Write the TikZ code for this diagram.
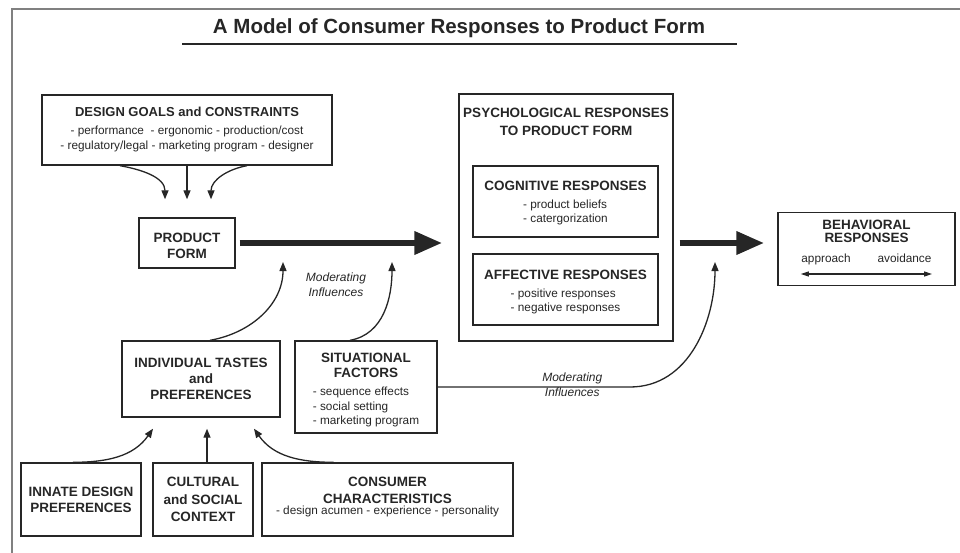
\documentclass[tikz,border=0pt]{standalone}
\usepackage{fontspec}
\setmainfont{Liberation Sans}
\usetikzlibrary{arrows.meta}

\definecolor{ink}{HTML}{262626}
\definecolor{rim}{HTML}{808080}
\def\ttl{\fontsize{13.5}{16}\selectfont\bfseries}
\def\lst{\fontsize{11.8}{14.5}\selectfont\mdseries}
\def\lift#1{\rule{0pt}{#1}}

\begin{document}
\begin{tikzpicture}[x=1pt,y=-1pt,draw=ink,text=ink,line width=1.3pt,>={Triangle[length=9pt,width=7pt]}]
    \tikzstyle{box}=[rectangle,draw,line width=1.4pt,inner sep=0pt,align=center,font=\ttl]
    \tikzstyle{head}=[inner sep=0pt,align=center,font=\ttl]
    \tikzstyle{items}=[inner sep=0pt,font=\lst]
    \tikzstyle{annot}=[inner sep=0pt,align=center,font=\fontsize{12}{15}\selectfont\itshape]
    \tikzstyle{bigarrow}=[line width=6.5pt,-{Triangle[length=28pt,width=22pt]}]

    \useasboundingbox (0,0) rectangle (960,553);
    \draw[rim,line width=1.5pt] (12,554) -- (12,9) -- (961,9);

    %%% TITLE
    \node[font=\fontsize{20.5}{24}\selectfont\bfseries] (title) at (459,28) {A Model of Consumer Responses to Product Form};
    \draw[line width=1.4pt] (182,44) -- (737,44);

    %%% DRAW THE BOXES
    \node[box,minimum width=290pt,minimum height=70pt,font=\fontsize{13}{16}\selectfont\bfseries] (dg) at (187,130)
        {DESIGN GOALS and CONSTRAINTS\\[2pt]{\lst - performance\ \ - ergonomic - production/cost}\\[-1pt]{\lst - regulatory/legal - marketing program - designer}};
    \node[box,minimum width=96pt,minimum height=50pt] (pf) at (187,243) {\lift{14.7pt}PRODUCT\\FORM};

    \node[box,minimum width=214pt,minimum height=247pt] (psy) at (566,217.5) {};
    \node[head] (psy-t) at (566,122) {PSYCHOLOGICAL RESPONSES\\[2pt]TO PRODUCT FORM};
    \node[box,minimum width=185pt,minimum height=71pt] (cog) at (565.5,201.5)
        {\lift{14.7pt}COGNITIVE RESPONSES\\[2pt]{\lst\begin{tabular}[t]{@{}l@{}}- product beliefs\\- catergorization\end{tabular}}};
    \node[box,minimum width=185pt,minimum height=71pt] (aff) at (565.5,289.5)
        {\lift{16.7pt}AFFECTIVE RESPONSES\\[2pt]{\lst\begin{tabular}[t]{@{}l@{}}- positive responses\\- negative responses\end{tabular}}};

    \node[box,minimum width=177pt,minimum height=73pt] (beh) at (866.5,249) {};
    \node[head,font=\fontsize{13.5}{13}\selectfont\bfseries] (beh-t) at (866.5,231) {BEHAVIORAL\\RESPONSES};
    \node[items,anchor=base] (appr) at (826,262) {approach};
    \node[items,anchor=base] (avoid) at (904.5,262) {avoidance};

    \node[box,minimum width=158pt,minimum height=76pt] (ind) at (201,379) {INDIVIDUAL TASTES\\and\\PREFERENCES};
    \node[box,minimum width=142pt,minimum height=92pt] (sit) at (366,387)
        {\lift{17.7pt}SITUATIONAL\\[-1pt]FACTORS\\[2pt]{\lst\begin{tabular}[t]{@{}l@{}}- sequence effects\\- social setting\\- marketing program\end{tabular}}};

    \node[box,minimum width=120pt,minimum height=73pt] (inn) at (81,499.5) {INNATE DESIGN\\PREFERENCES};
    \node[box,minimum width=100pt,minimum height=73pt] (cul) at (203,499.5) {CULTURAL\\[1.5pt]and SOCIAL\\[1.5pt]CONTEXT};
    \node[box,minimum width=251pt,minimum height=73pt] (con) at (387.5,499.5)
        {CONSUMER\\[1pt]CHARACTERISTICS\\[-5pt]{\lst - design acumen - experience - personality\rule[-7.5pt]{0pt}{7.5pt}}};

    \coordinate (mod-1) at (283,262);
    \coordinate (mod-2) at (392,262);
    \coordinate (mod-3) at (715,262);

    %%% DRAW THE PATHS
    \foreach \s/\t/\o in {-67/-22/-10, 0/0/-90, 60/24/190}
        \draw[->] ([xshift=\s pt]dg.south) to[out=\o,in=90] ([xshift=\t pt,yshift=18pt]pf.north);

    \draw[bigarrow] ([xshift=4pt]pf.east) -- ([xshift=-16pt]pf.east -| psy.west);
    \draw[bigarrow] ([xshift=6pt]pf.east -| psy.east) -- ([xshift=-13pt]pf.east -| beh.west);

    \draw[->] ([xshift=9pt]ind.north) to[out=10,in=-90] (mod-1);
    \draw[->] ([xshift=-16pt]sit.north) to[out=10,in=-90] (mod-2);
    \draw[->] (sit.east) -- node[annot,pos=0.7,yshift=2pt] {Moderating\\Influences} (630,387) to[out=0,in=-90] (mod-3);

    \draw[line width=1.1pt,>={Triangle[length=8pt,width=5pt]},<->] ([yshift=-12pt]appr.base west) -- ([yshift=-12pt]avoid.base east);

    \draw[->] ([xshift=-8pt]inn.north) to[out=0,in=-125] ([xshift=-48pt,yshift=-11pt]ind.south);
    \draw[->] ([xshift=4pt]cul.north) -- ([xshift=6pt,yshift=-11pt]ind.south);
    \draw[->] ([xshift=-54pt]con.north) to[out=180,in=-55] ([xshift=53pt,yshift=-11pt]ind.south);

    %%% ANOTATE
    \node[annot] (mod-t) at (336,285) {Moderating\\Influences};

\end{tikzpicture}
\end{document}
